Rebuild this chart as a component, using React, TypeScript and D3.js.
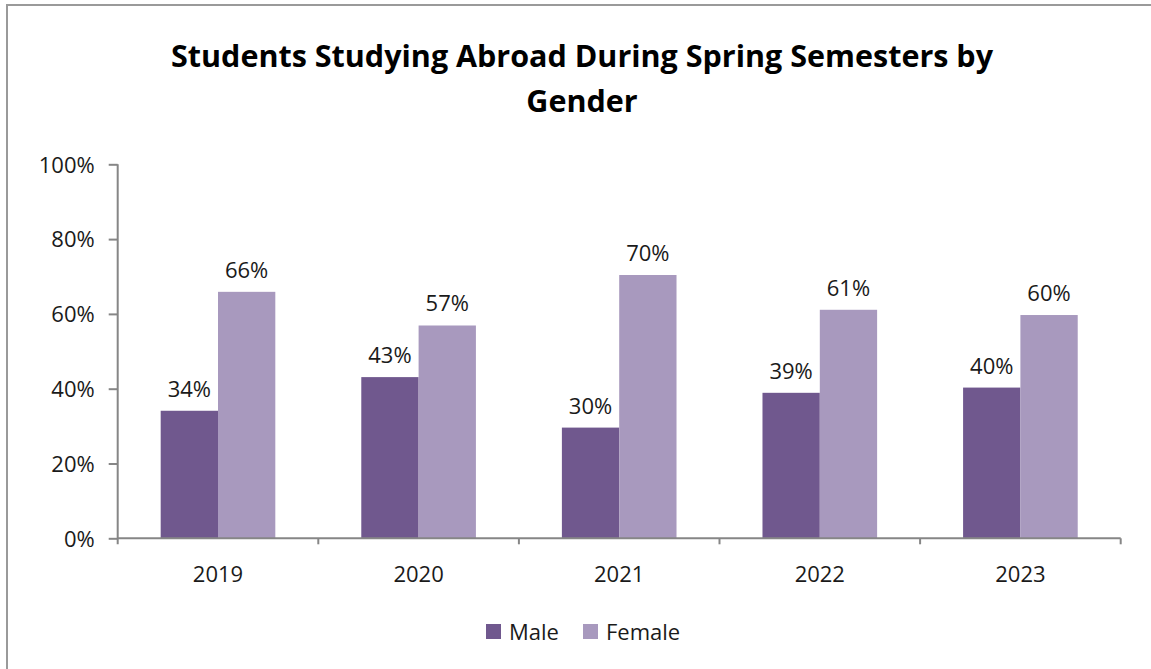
import { useEffect, useRef } from 'react';
import * as d3 from 'd3';

const years = ["2019", "2020", "2021", "2022", "2023"];
const seriesNames = ["Male", "Female"];
const maleValues = [0.341, 0.431, 0.296, 0.389, 0.403];
const femaleValues = [0.659, 0.569, 0.704, 0.611, 0.597];
const yTicks = [0, 0.2, 0.4, 0.6, 0.8, 1.0];
const seriesColors = ["#70588e", "#a899be"];

const width = 1151;
const height = 669;
const font = "'Open Sans', 'DejaVu Sans', sans-serif";

const App = () => {
  const ref = useRef<SVGSVGElement>(null);

  useEffect(() => {
    const svg = d3.select(ref.current);
    svg.selectAll("*").remove();

    const left = 117.7, right = 1120.7, top = 164.3, bottom = 538.3;

    // outer frame
    svg.append("rect")
      .attr("x", 7).attr("y", 5)
      .attr("width", width + 10).attr("height", height + 10)
      .attr("fill", "#fff")
      .attr("stroke", "#9a9a9a")
      .attr("stroke-width", 2);

    // title
    const title = svg.append("text")
      .attr("text-anchor", "middle")
      .attr("font-family", font)
      .attr("font-weight", "bold")
      .attr("font-size", 30.5)
      .attr("fill", "#000");
    title.append("tspan").attr("x", 582).attr("y", 67)
      .text("Students Studying Abroad During Spring Semesters by");
    title.append("tspan").attr("x", 582).attr("y", 112).text("Gender");

    const x0 = d3.scaleBand().domain(years).range([left, right]).padding(0);
    const x1 = d3.scaleBand().domain(seriesNames).range([0, x0.bandwidth()])
      .paddingInner(0).paddingOuter(0.75);
    const y = d3.scaleLinear().domain([0, 1]).range([bottom, top]);

    const axisColor = "#868686";

    // y axis
    const yAxis = svg.append("g")
      .attr("transform", `translate(${left},0)`)
      .call(d3.axisLeft(y).tickValues(yTicks).tickFormat(d3.format(".0%")).tickSize(9).tickSizeOuter(0));
    yAxis.select(".domain").remove();
    yAxis.selectAll(".tick line").attr("stroke", axisColor).attr("stroke-width", 2);
    yAxis.selectAll(".tick text")
      .attr("x", -23)
      .attr("dy", "0.35em")
      .attr("font-family", font)
      .attr("font-size", 22)
      .attr("fill", "#1a1a1a");
    svg.append("line")
      .attr("x1", left).attr("x2", left)
      .attr("y1", top).attr("y2", bottom + 6)
      .attr("stroke", axisColor).attr("stroke-width", 2);

    // bars
    const data = years.map((yr, i) => ({ year: yr, values: [maleValues[i], femaleValues[i]] }));
    const groups = svg.selectAll(".grp").data(data).enter().append("g")
      .attr("class", "grp")
      .attr("transform", d => `translate(${x0(d.year)},0)`);

    groups.selectAll("rect")
      .data(d => d.values.map((v, j) => ({ key: seriesNames[j], v, j })))
      .enter().append("rect")
      .attr("x", d => x1(d.key)!)
      .attr("y", d => y(d.v))
      .attr("width", x1.bandwidth())
      .attr("height", d => bottom - y(d.v))
      .attr("fill", d => seriesColors[d.j]);

    groups.selectAll("text")
      .data(d => d.values.map((v, j) => ({ key: seriesNames[j], v, j })))
      .enter().append("text")
      .attr("x", d => x1(d.key)! + x1.bandwidth() / 2)
      .attr("y", d => y(d.v) - 14)
      .attr("text-anchor", "middle")
      .attr("font-family", font)
      .attr("font-size", 22)
      .attr("fill", "#1a1a1a")
      .text(d => d3.format(".0%")(d.v));

    // x axis
    svg.append("line")
      .attr("x1", left).attr("x2", right)
      .attr("y1", bottom).attr("y2", bottom)
      .attr("stroke", axisColor).attr("stroke-width", 2);
    const boundaries = years.map(yr => x0(yr)! + x0.bandwidth());
    svg.selectAll(".xtick").data(boundaries).enter().append("line")
      .attr("x1", d => d).attr("x2", d => d)
      .attr("y1", bottom).attr("y2", bottom + 6)
      .attr("stroke", axisColor).attr("stroke-width", 2);
    svg.selectAll(".xlabel").data(years).enter().append("text")
      .attr("x", d => x0(d)! + x0.bandwidth() / 2)
      .attr("y", 582)
      .attr("text-anchor", "middle")
      .attr("font-family", font)
      .attr("font-size", 22)
      .attr("fill", "#1a1a1a")
      .text(d => d);

    // legend
    const legendItems = [
      { name: seriesNames[0], color: seriesColors[0], sx: 486, tx: 509 },
      { name: seriesNames[1], color: seriesColors[1], sx: 583, tx: 606 },
    ];
    const lg = svg.selectAll(".lg").data(legendItems).enter().append("g");
    lg.append("rect")
      .attr("x", d => d.sx).attr("y", 624)
      .attr("width", 15).attr("height", 15)
      .attr("fill", d => d.color);
    lg.append("text")
      .attr("x", d => d.tx).attr("y", 640)
      .attr("font-family", font)
      .attr("font-size", 22)
      .attr("fill", "#1a1a1a")
      .text(d => d.name);
  }, []);

  return (
    <div style={{ position: "absolute", left: 0, top: 0 }}>
      <svg ref={ref} width={width} height={height} style={{ display: "block" }}></svg>
    </div>
  );
};

export default App;
